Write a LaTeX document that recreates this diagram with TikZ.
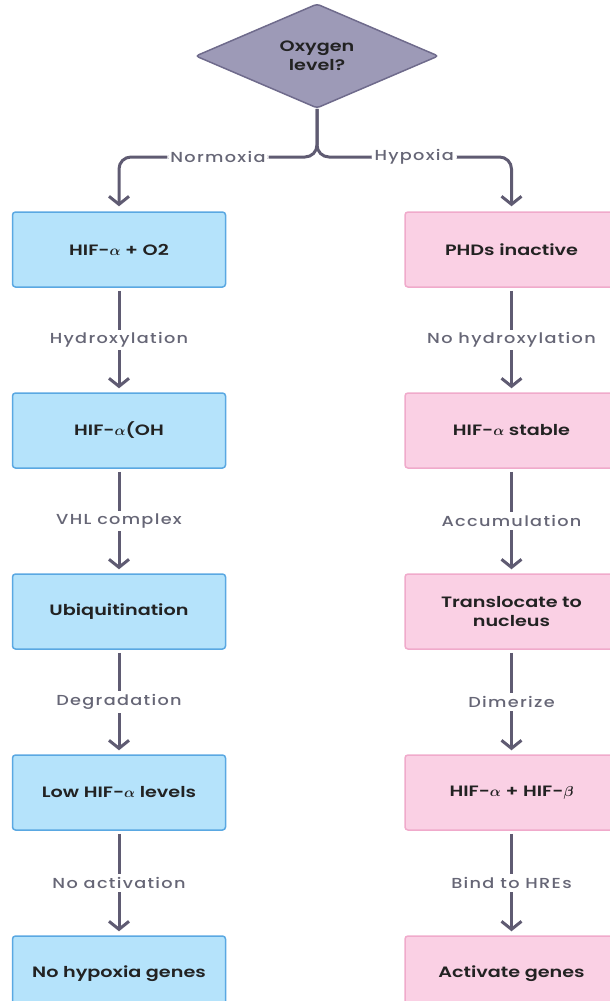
\documentclass[tikz,border=0pt]{standalone}
\usepackage{bm}
\usepackage{fontspec}
\setmainfont{Poppins}[FakeStretch=1.28,BoldFont={Poppins SemiBold}]
\newfontfamily\lblfont{Poppins Medium}[FakeStretch=1.22,LetterSpace=9]
\usetikzlibrary{arrows.meta,positioning,shapes.geometric}
\definecolor{normfill}{HTML}{B5E3FB}
\definecolor{normdraw}{HTML}{5AA8E2}
\definecolor{hypfill}{HTML}{FAD0E4}
\definecolor{hypdraw}{HTML}{F0AACB}
\definecolor{qfill}{HTML}{9D9AB7}
\definecolor{qdraw}{HTML}{6F6B8C}
\definecolor{flowgrey}{HTML}{5F5B72}
\definecolor{lblgrey}{HTML}{666676}
\definecolor{textdark}{HTML}{222222}

\begin{document}
\begin{tikzpicture}
              [x=1pt,y=1pt,
                every node/.style={font=\bfseries\fontsize{15}{19}\selectfont,text=textdark},
                normbox/.style={rectangle,rounded corners=3pt,draw=normdraw,fill=normfill,line width=1.5pt,
                  minimum width=213pt,minimum height=75pt,align=center},
                hypbox/.style={normbox,draw=hypdraw,fill=hypfill},
                flow/.style={draw=flowgrey,line width=3pt,-{Straight Barb[length=8pt,width=20pt,line width=3pt]}},
                lbl/.style={fill=white,font=\lblfont\fontsize{14.5}{17}\selectfont,text=lblgrey,inner sep=3pt}]
              \useasboundingbox (0,0) rectangle (610,-1001);
              \node[diamond,draw=qdraw,fill=qfill,line width=1.5pt,rounded corners=3pt,align=center,
                minimum width=243pt,minimum height=102pt,inner sep=0pt] (q) at (317,-56) {Oxygen\\level?};
              % normoxia branch
              \node[normbox] (n1) at (119,-249.5) {HIF-$\bm{\alpha}$ + O2};
              \node[normbox] (n2) [below=104.5pt of n1] {HIF-$\bm{\alpha}$(OH};
              \node[normbox] (n3) [below=104.5pt of n2] {Ubiquitination};
              \node[normbox] (n4) [below=104.5pt of n3] {Low HIF-$\bm{\alpha}$ levels};
              \node[normbox] (n5) [below=104.5pt of n4] {No hypoxia genes};
              % hypoxia branch
              \node[hypbox] (h1) at (511.5,-249.5) {PHDs inactive};
              \node[hypbox] (h2) [below=104.5pt of h1] {HIF-$\bm{\alpha}$ stable};
              \node[hypbox] (h3) [below=104.5pt of h2] {Translocate to\\nucleus};
              \node[hypbox] (h4) [below=104.5pt of h3] {HIF-$\bm{\alpha}$ + HIF-$\bm{\beta}$};
              \node[hypbox] (h5) [below=104.5pt of h4] {Activate genes};
              \coordinate (fork) at (317,-157);
              \draw[flow,rounded corners=12pt,shorten >=5pt] (q.south) -- (fork) -| node[lbl,pos=0.25] {Normoxia} (n1.north);
              \draw[flow,rounded corners=12pt,shorten >=5pt] (q.south) -- (fork) -| node[lbl,pos=0.25] {Hypoxia} (h1.north);
              \foreach \from/\to/\txt in {n1/n2/Hydroxylation,n2/n3/VHL complex,n3/n4/Degradation,n4/n5/No activation,
                h1/h2/No hydroxylation,h2/h3/Accumulation,h3/h4/Dimerize,h4/h5/Bind to HREs}
              \draw[flow,shorten <=3pt,shorten >=4pt] (\from) -- node[lbl] {\txt} (\to);
            \end{tikzpicture}
\end{document}
